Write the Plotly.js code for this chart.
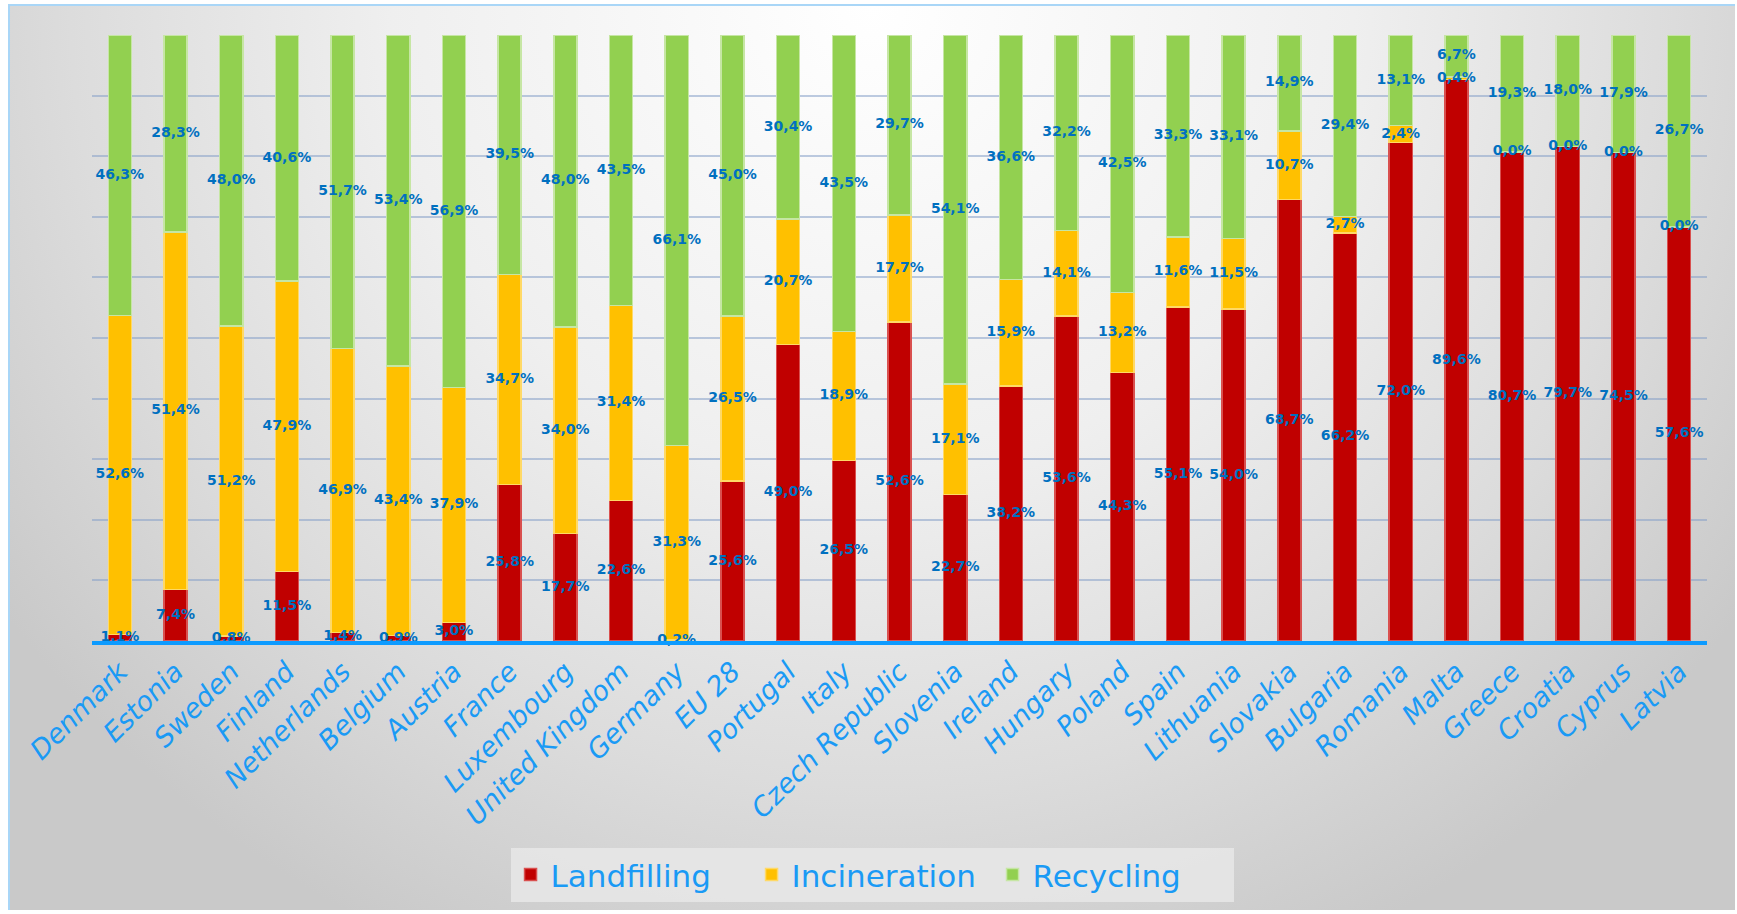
<!DOCTYPE html>
<html>
<head>
<meta charset="utf-8">
<script src="https://cdn.plot.ly/plotly-3.0.1.min.js"></script>
<style>
  html, body { margin: 0; padding: 0; background: #ffffff; }
  #wrap { position: relative; width: 1737px; height: 914px; overflow: hidden; }
  #bg {
    position: absolute; left: 8px; top: 4px; width: 1725px; height: 904px;
    border-top: 2px solid #a9d6f7; border-left: 2px solid #a9d6f7;
    background: radial-gradient(ellipse 62% 115% at 50% 0%, #ffffff 0%, #efefef 45%, #dcdcdc 75%, #c9c9c9 100%);
  }
  #chart { position: absolute; left: 0; top: 0; width: 1737px; height: 914px; }
</style>
</head>
<body>
<div id="wrap">
  <div id="bg"></div>
  <div id="chart"></div>
</div>
<script>
const categories = ["Denmark","Estonia","Sweden","Finland","Netherlands","Belgium","Austria","France","Luxembourg","United Kingdom","Germany","EU 28","Portugal","Italy","Czech Republic","Slovenia","Ireland","Hungary","Poland","Spain","Lithuania","Slovakia","Bulgaria","Romania","Malta","Greece","Croatia","Cyprus","Latvia"];
const landfilling  = [1.1, 7.4, 0.8, 11.5, 1.4, 0.9, 3.0, 25.8, 17.7, 22.6, 0.2, 25.6, 49.0, 26.5, 52.6, 22.7, 38.2, 53.6, 44.3, 55.1, 54.0, 68.7, 66.2, 72.0, 89.6, 80.7, 79.7, 74.5, 57.6];
const incineration = [52.6, 51.4, 51.2, 47.9, 46.9, 43.4, 37.9, 34.7, 34.0, 31.4, 31.3, 26.5, 20.7, 18.9, 17.7, 17.1, 15.9, 14.1, 13.2, 11.6, 11.5, 10.7, 2.7, 2.4, 0.4, 0.0, 0.0, 0.0, 0.0];
const recycling    = [46.3, 28.3, 48.0, 40.6, 51.7, 53.4, 56.9, 39.5, 48.0, 43.5, 66.1, 45.0, 30.4, 43.5, 29.7, 54.1, 36.6, 32.2, 42.5, 33.3, 33.1, 14.9, 29.4, 13.1, 6.7, 19.3, 18.0, 17.9, 26.7];

const seriesNames = ["Landfilling", "Incineration", "Recycling"];
const seriesColors = ["#c00000", "#ffc000", "#92d050"];
const edgeColors = ["#d9504f", "#ffd966", "#c6e6a4"];
const series = [landfilling, incineration, recycling];

const fmt = v => v.toFixed(1).replace('.', ',') + '%';

// label positions: midpoints of the 100%-normalised segments
const totals = categories.map((c, i) => landfilling[i] + incineration[i] + recycling[i]);
const mids = series.map((s, k) => s.map((v, i) => {
  let below = 0;
  for (let j = 0; j < k; j++) below += series[j][i];
  return (below + v / 2) / totals[i] * 100;
}));

const traces = [];
series.forEach((s, k) => {
  traces.push({
    type: 'bar',
    name: seriesNames[k],
    x: categories,
    y: s,
    marker: { color: seriesColors[k], line: { color: edgeColors[k], width: 1.5 } },
    hoverinfo: 'x+name+text',
    hovertext: s.map(fmt)
  });
});
series.forEach((s, k) => {
  traces.push({
    type: 'scatter',
    mode: 'text',
    x: categories,
    y: mids[k],
    text: s.map(fmt),
    textposition: 'middle center',
    textfont: { family: 'DejaVu Sans, Verdana, sans-serif', size: 14, color: '#0070c0', weight: 'bold' },
    showlegend: false,
    hoverinfo: 'skip',
    cliponaxis: false
  });
});

const layout = {
  width: 1737,
  height: 914,
  paper_bgcolor: 'rgba(0,0,0,0)',
  plot_bgcolor: 'rgba(0,0,0,0)',
  margin: { l: 92, r: 30, t: 35, b: 271 },
  barmode: 'stack',
  barnorm: 'percent',
  bargap: 0.585,
  font: { family: 'DejaVu Sans, Verdana, sans-serif', color: '#1a9af5' },
  xaxis: {
    type: 'category',
    range: [-0.5, categories.length - 0.5],
    tickangle: -45,
    tickfont: { family: 'DejaVu Sans, Verdana, sans-serif', size: 27, color: '#1a9af5', style: 'italic' },
    showline: true,
    linecolor: '#0d9bff',
    linewidth: 4,
    ticks: '',
    showgrid: false,
    automargin: false
  },
  yaxis: {
    range: [0, 100],
    dtick: 10,
    showticklabels: false,
    showgrid: true,
    gridcolor: 'rgba(135,160,200,0.55)',
    gridwidth: 1.5,
    zeroline: false,
    fixedrange: true
  },
  showlegend: true,
  legend: {
    orientation: 'h',
    x: 0.483,
    xanchor: 'center',
    y: -0.386,
    yanchor: 'middle',
    bgcolor: 'rgba(232,232,232,0.85)',
    font: { family: 'DejaVu Sans, Verdana, sans-serif', size: 31, color: '#1a9af5' },
    itemwidth: 30,
    entrywidth: 196,
    entrywidthmode: 'pixels',
    traceorder: 'normal'
  }
};

Plotly.newPlot('chart', traces, layout, { displayModeBar: false });
</script>
</body>
</html>
